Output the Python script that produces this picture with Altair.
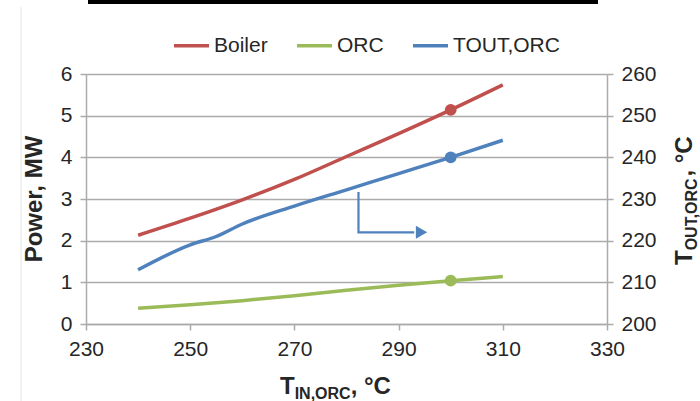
import altair as alt
import pandas as pd

# ORC inlet temperature, °C
t_in = [240, 250, 260, 270, 280, 290, 300, 310]
# Power, MW
boiler_mw = [2.13, 2.54, 2.98, 3.47, 4.02, 4.57, 5.14, 5.74]
orc_mw = [0.38, 0.46, 0.56, 0.68, 0.81, 0.93, 1.04, 1.14]

# ORC outlet temperature, °C (right axis)
t_in_out = [240, 250, 255, 260, 270, 280, 290, 300, 310]
t_out = [213.0, 219.0, 221.0, 224.0, 228.3, 232.2, 236.1, 240.0, 244.1]

design_t_in = 300  # highlighted operating point

series_names = ["Boiler", "ORC", "TOUT,ORC"]
series_colors = ["#C0504D", "#9BBB59", "#4F81BD"]

# arrow telling that the blue curve belongs to the right axis
arrow_x = [282.3, 282.3, 293.0]
arrow_y = [231.7, 222.0, 222.0]
arrow_head_x = [294.4]
arrow_head_y = [222.0]

x_ticks = [230, 250, 270, 290, 310, 330]
left_ticks = [0, 1, 2, 3, 4, 5, 6]
right_ticks = [200, 210, 220, 230, 240, 250, 260]

W, H = 521, 250
GRID = "#ABABAB"
TXT = "#262626"
FONT = "Liberation Sans"

power_df = pd.DataFrame(
    {"t": t_in * 2, "value": boiler_mw + orc_mw,
     "series": ["Boiler"] * len(t_in) + ["ORC"] * len(t_in)}
)
power_pts = power_df[power_df["t"] == design_t_in]
tout_df = pd.DataFrame({"t": t_in_out, "value": t_out, "series": "TOUT,ORC"})
tout_pts = tout_df[tout_df["t"] == design_t_in]
arrow_df = pd.DataFrame({"t": arrow_x, "value": arrow_y, "order": [0, 1, 2]})
head_df = pd.DataFrame({"t": arrow_head_x, "value": arrow_head_y})

x_enc = alt.X(
    "t:Q",
    scale=alt.Scale(domain=[230, 330], nice=False, zero=False),
    axis=alt.Axis(values=x_ticks, title=None, grid=False, tickSize=6,
                  labelPadding=8, domainColor=GRID, tickColor=GRID,
                  domainWidth=1.5, tickWidth=1.5, labelFontSize=21,
                  labelColor=TXT, labelFont=FONT, labelFlush=False,
                  labelOverlap=False),
)
color_enc = alt.Color(
    "series:N",
    scale=alt.Scale(domain=series_names, range=series_colors),
    legend=alt.Legend(
        orient="none", direction="horizontal", legendX=86, legendY=-48,
        title=None, symbolType="stroke", symbolSize=1225,
        symbolStrokeWidth=3.5, labelFontSize=21, labelFont=FONT,
        labelColor=TXT, labelOffset=3, columnPadding=22, padding=0,
    ),
)

left_scale = alt.Scale(domain=[0, 6], nice=False, zero=False)
left_y = alt.Y(
    "value:Q", scale=left_scale,
    axis=alt.Axis(orient="left", values=left_ticks, title=None, grid=True,
                  gridColor=GRID, gridWidth=1.5, tickSize=6, labelPadding=8,
                  domainColor=GRID, tickColor=GRID, domainWidth=1.5,
                  tickWidth=1.5, labelFontSize=21, labelColor=TXT,
                  labelFont=FONT, labelFlush=False),
)
right_scale = alt.Scale(domain=[200, 260], nice=False, zero=False)
right_y = alt.Y(
    "value:Q", scale=right_scale,
    axis=alt.Axis(orient="right", values=right_ticks, title=None, grid=False,
                  tickSize=6, labelPadding=8, domainColor=GRID,
                  tickColor=GRID, domainWidth=1.5, tickWidth=1.5,
                  labelFontSize=21, labelColor=TXT, labelFont=FONT,
                  labelFlush=False),
)

power_lines = alt.Chart(power_df).mark_line(
    strokeWidth=3.5, interpolate="monotone"
).encode(x=x_enc, y=left_y, color=color_enc)
power_marks = alt.Chart(power_pts).mark_point(
    filled=True, size=140, opacity=1
).encode(x=x_enc, y=left_y, color=color_enc)

tout_line = alt.Chart(tout_df).mark_line(
    strokeWidth=3.5, interpolate="monotone"
).encode(x=x_enc, y=right_y, color=color_enc)
tout_mark = alt.Chart(tout_pts).mark_point(
    filled=True, size=140, opacity=1
).encode(x=x_enc, y=right_y, color=color_enc)
arrow_line = alt.Chart(arrow_df).mark_line(
    strokeWidth=2.2, color="#4F81BD"
).encode(x=x_enc, y=right_y, order="order:Q")
arrow_head = alt.Chart(head_df).mark_point(
    shape="triangle-right", filled=True, size=170, opacity=1, color="#4F81BD"
).encode(x=x_enc, y=right_y)

left = alt.layer(power_lines, power_marks)
right = alt.layer(tout_line, tout_mark, arrow_line, arrow_head)


def label(text, x, y, size, angle=0, align="left", baseline="alphabetic"):
    return alt.Chart(alt.Data(values=[{}])).mark_text(
        text=text, fontSize=size, fontWeight="bold", font=FONT, color=TXT,
        angle=angle, align=align, baseline=baseline,
    ).encode(x=alt.value(x), y=alt.value(y))


F, f = 24, 16
# x-axis title: T_IN,ORC, °C
x_title = [
    label("T", 194, 320, F),
    label("IN,ORC", 194 + 0.611 * F, 325, f),
    label(", °C", 194 + 0.611 * F + 3.5 * f, 320, F),
]
# right-axis title: T_OUT,ORC, °C (reads bottom to top)
ry0 = 191
r_title = [
    label("T", 606, ry0, F, angle=270),
    label("OUT,ORC", 611, ry0 - 0.611 * F, f, angle=270),
    label(", °C", 606, ry0 - 0.611 * F - 4.611 * f, F, angle=270),
]
# left-axis title
l_title = label("Power, MW", -44, 125, F, angle=270, align="center")

# black bar at the top edge and faint frame line on the left
top_bar = alt.Chart(alt.Data(values=[{}])).mark_rule(
    color="#000000", strokeWidth=4
).encode(x=alt.value(2), x2=alt.value(512), y=alt.value(-72))
side_line = alt.Chart(alt.Data(values=[{}])).mark_rule(
    color="#E6E6E6", strokeWidth=1
).encode(x=alt.value(-65), y=alt.value(-67), y2=alt.value(327))

chart = alt.layer(
    alt.layer(left, right).resolve_scale(y="independent"),
    top_bar, side_line, l_title, *x_title, *r_title,
).properties(
    width=W, height=H,
    padding={"left": 86, "top": 74, "right": 93, "bottom": 77},
    autosize=alt.AutoSizeParams(type="none"),
    background="white",
).configure_view(stroke=None)

chart.save("out.html", embed_options={"renderer": "svg", "actions": False})
